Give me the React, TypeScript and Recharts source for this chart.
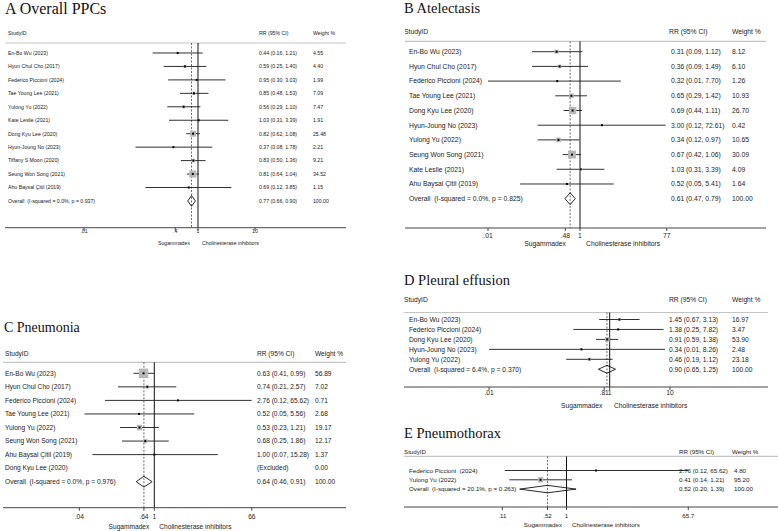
import React from 'react';
import { ScatterChart, Scatter, XAxis, YAxis, ReferenceLine } from 'recharts';

// A Overall PPCs
const aStudies = ['En-Bo Wu (2023)', 'Hyun Chul Cho (2017)', 'Federico Piccioni (2024)', 'Tae Young Lee (2021)', 'Yulong Yu (2022)', 'Kate Leslie (2021)', 'Dong Kyu Lee (2020)', 'Hyun-Joung No (2023)', 'Tiffany S Moon (2020)', 'Seung Won Song (2021)', 'Ahu Baysal Çitil (2019)'];
const aRR = [0.44, 0.59, 0.95, 0.85, 0.56, 1.03, 0.82, 0.37, 0.83, 0.81, 0.69];
const aLow = [0.16, 0.25, 0.30, 0.48, 0.29, 0.31, 0.62, 0.08, 0.50, 0.64, 0.12];
const aHigh = [1.21, 1.40, 3.03, 1.53, 1.10, 3.39, 1.08, 1.78, 1.36, 1.04, 3.85];
const aWeight = [4.55, 4.40, 1.99, 7.09, 7.47, 1.91, 25.48, 2.21, 9.21, 34.52, 1.15];
const aOverall = [0.77, 0.66, 0.90];
const aHet = 'I-squared = 0.0%, p = 0.937';
const aTicks = [0.01, 0.4, 1, 10];
const aTickLabels = ['.01', '.4', '1', '10'];

// B Atelectasis
const bStudies = ['En-Bo Wu (2023)', 'Hyun Chul Cho (2017)', 'Federico Piccioni (2024)', 'Tae Young Lee (2021)', 'Dong Kyu Lee (2020)', 'Hyun-Joung No (2023)', 'Yulong Yu (2022)', 'Seung Won Song (2021)', 'Kate Leslie (2021)', 'Ahu Baysal Çitil (2019)'];
const bRR = [0.31, 0.36, 0.32, 0.65, 0.69, 3.00, 0.34, 0.67, 1.03, 0.52];
const bLow = [0.09, 0.09, 0.01, 0.29, 0.44, 0.12, 0.12, 0.42, 0.31, 0.05];
const bHigh = [1.12, 1.49, 7.70, 1.42, 1.11, 72.61, 0.97, 1.06, 3.39, 5.41];
const bWeight = [8.12, 6.10, 1.26, 10.93, 26.70, 0.42, 10.65, 30.09, 4.09, 1.64];
const bOverall = [0.61, 0.47, 0.79];
const bHet = 'I-squared = 0.0%, p = 0.825';
const bTicks = [0.01, 0.48, 1, 77];
const bTickLabels = ['.01', '.48', '1', '77'];

// C Pneumonia
const cStudies = ['En-Bo Wu (2023)', 'Hyun Chul Cho (2017)', 'Federico Piccioni (2024)', 'Tae Young Lee (2021)', 'Yulong Yu (2022)', 'Seung Won Song (2021)', 'Ahu Baysal Çitil (2019)', 'Dong Kyu Lee (2020)'];
const cRR = [0.63, 0.74, 2.76, 0.52, 0.53, 0.68, 1.00, null];
const cLow = [0.41, 0.21, 0.12, 0.05, 0.23, 0.25, 0.07, null];
const cHigh = [0.99, 2.57, 65.62, 5.56, 1.21, 1.86, 15.28, null];
const cWeight = [56.89, 7.02, 0.71, 2.68, 19.17, 12.17, 1.37, 0.00];
const cOverall = [0.64, 0.46, 0.91];
const cHet = 'I-squared = 0.0%, p = 0.976';
const cTicks = [0.04, 0.64, 1, 66];
const cTickLabels = ['.04', '.64', '1', '66'];

// D Pleural effusion
const dStudies = ['En-Bo Wu (2023)', 'Federico Piccioni (2024)', 'Dong Kyu Lee (2020)', 'Hyun-Joung No (2023)', 'Yulong Yu (2022)'];
const dRR = [1.45, 1.38, 0.91, 0.34, 0.46];
const dLow = [0.67, 0.25, 0.59, 0.01, 0.19];
const dHigh = [3.13, 7.82, 1.38, 8.26, 1.12];
const dWeight = [16.97, 3.47, 53.90, 2.48, 23.18];
const dOverall = [0.90, 0.65, 1.25];
const dHet = 'I-squared = 6.4%, p = 0.370';
const dTicks = [0.01, 0.81, 1, 10];
const dTickLabels = ['.01', '.81', '1', '10'];

// E Pneumothorax
const eStudies = ['Federico Piccioni  (2024)', 'Yulong Yu (2022)'];
const eRR = [2.76, 0.41];
const eLow = [0.12, 0.14];
const eHigh = [65.62, 1.21];
const eWeight = [4.80, 95.20];
const eOverall = [0.52, 0.20, 1.39];
const eHet = 'I-squared = 20.1%, p = 0.263';
const eTicks = [0.11, 0.52, 1, 65.7];
const eTickLabels = ['.11', '.52', '1', '65.7'];

const SANS = '"Liberation Sans", Arial, sans-serif';
const fmt = (v: number) => v.toFixed(2);

interface Geo {
  left: number; right: number; oneX: number; perDecade: number;
  headY: number; sepY: number; row0Y: number; rowStep: number; axisY: number;
  headX: number; labelX: number; rrHeadX: number; rrX: number; wHeadX: number; wX: number;
  font: number; boxScale: number; tickOff: number;
  capY: number; capL: number; capR: number;
  titleX: number; titleY: number; titleSize: number;
}

interface PlotProps {
  title: string;
  studies: string[];
  rr: (number | null)[];
  low: (number | null)[];
  high: (number | null)[];
  weight: number[];
  overall: number[];
  het: string;
  ticks: number[];
  tickLabels: string[];
  g: Geo;
}

const ForestPlot = ({ title, studies, rr, low, high, weight, overall, het, ticks, tickLabels, g }: PlotProps) => {
  const n = studies.length;
  const top = g.headY - 8;
  const width = g.right - g.left;
  const height = g.capY + 4 - top;
  const xAxisH = height - (g.axisY - top);
  const toRow = (py: number) => (py - g.row0Y) / g.rowStep;
  const toVal = (px: number) => Math.pow(10, (px - g.oneX) / g.perDecade);
  const yDomain = [toRow(top), toRow(g.axisY)];
  const xDomain = [toVal(g.left), toVal(g.right)];
  const headRow = toRow(g.headY);
  const sepRow = toRow(g.sepY);
  const yTicks = [headRow, ...studies.map((_, i) => i), n];

  const points = studies
    .map((s, i) => ({ x: rr[i], y: i, lo: low[i], hi: high[i], w: weight[i], name: s }))
    .filter((p) => p.x != null);

  const textStyle = { fontFamily: SANS, fontSize: g.font, fill: '#1a1a1a', whiteSpace: 'pre' as const };

  // the y axis sits 1px left of the svg (margin -1), so texts are placed from the chart's left edge
  const renderRow = (p: any) => {
    const v = p.payload.value;
    const y = p.y;
    if (v < -0.5) {
      return (
        <g>
          <text x={g.headX - g.left} y={y} dy="0.35em" style={textStyle}>StudyID</text>
          <text x={g.rrHeadX - g.left} y={y} dy="0.35em" style={textStyle}>RR (95% CI)</text>
          <text x={g.wHeadX - g.left} y={y} dy="0.35em" style={textStyle}>Weight %</text>
        </g>
      );
    }
    const i = Math.round(v);
    let label: string;
    let ci: string;
    let w: string;
    if (i === n) {
      label = `Overall  (${het})`;
      ci = `${fmt(overall[0])} (${fmt(overall[1])}, ${fmt(overall[2])})`;
      w = '100.00';
    } else {
      label = studies[i];
      const e = rr[i];
      ci = e == null ? '(Excluded)' : `${fmt(e)} (${fmt(low[i] as number)}, ${fmt(high[i] as number)})`;
      w = fmt(weight[i]);
    }
    return (
      <g>
        <text x={g.labelX - g.left} y={y} dy="0.35em" style={textStyle}>{label}</text>
        <text x={g.rrX - g.left} y={y} dy="0.35em" style={textStyle}>{ci}</text>
        <text x={g.wX - g.left} y={y} dy="0.35em" style={textStyle}>{w}</text>
      </g>
    );
  };

  const renderXTick = (p: any) => {
    const idx = ticks.indexOf(p.payload.value);
    return (
      <text x={p.x} y={p.y - 3 + g.tickOff} textAnchor="middle" style={textStyle}>
        {tickLabels[idx]}
      </text>
    );
  };

  const renderCaptions = () => {
    const cx = g.oneX - g.left;
    const cy = g.capY - top;
    return (
      <g>
        <text x={cx - g.capL} y={cy} textAnchor="end" style={textStyle}>Sugammadex</text>
        <text x={cx + g.capR} y={cy} textAnchor="start" style={textStyle}>Cholinesterase inhibitors</text>
      </g>
    );
  };

  const renderBox = (p: any) => {
    const s = g.boxScale * Math.sqrt(p.payload.w);
    return (
      <g>
        <rect x={p.cx - s / 2} y={p.cy - s / 2} width={s} height={s} fill="#b8b8b8" />
        <rect x={p.cx - 1} y={p.cy - 1} width={2} height={2} fill="#000" />
      </g>
    );
  };

  const [oe, ol, oh] = overall;
  const dh = 0.4;
  const diamond = [
    [{ x: ol, y: n }, { x: oe, y: n - dh }],
    [{ x: oe, y: n - dh }, { x: oh, y: n }],
    [{ x: oh, y: n }, { x: oe, y: n + dh }],
    [{ x: oe, y: n + dh }, { x: ol, y: n }],
  ];

  return (
    <>
      <div
        style={{
          position: 'absolute', left: g.titleX, top: g.titleY - g.titleSize * 0.86,
          fontFamily: '"Liberation Serif", "Times New Roman", serif',
          fontSize: g.titleSize, lineHeight: `${g.titleSize}px`, color: '#111', whiteSpace: 'nowrap',
        }}
      >
        {title}
      </div>
      <div style={{ position: 'absolute', left: g.left, top, width, height }}>
        <ScatterChart width={width} height={height} margin={{ top: 0, right: 0, bottom: 0, left: -1 }}>
          <XAxis
            type="number"
            dataKey="x"
            scale="log"
            domain={xDomain}
            allowDataOverflow
            ticks={ticks}
            interval={0}
            height={xAxisH}
            tickSize={3}
            tickMargin={0}
            axisLine={{ stroke: '#444', strokeWidth: 1 }}
            tickLine={{ stroke: '#444' }}
            tick={renderXTick}
            label={renderCaptions}
          />
          <YAxis
            type="number"
            dataKey="y"
            domain={yDomain}
            reversed
            allowDataOverflow
            ticks={yTicks}
            interval={0}
            width={1}
            axisLine={false}
            tickLine={false}
            tickMargin={0}
            tick={renderRow}
          />
          <ReferenceLine y={sepRow} stroke="#c4c4c4" strokeWidth={1.2} ifOverflow="visible" />
          <ReferenceLine
            segment={[{ x: 1, y: sepRow }, { x: 1, y: yDomain[1] }]}
            stroke="#111"
            strokeWidth={1}
            ifOverflow="visible"
          />
          <ReferenceLine
            segment={[{ x: oe, y: sepRow }, { x: oe, y: yDomain[1] }]}
            stroke="#444"
            strokeWidth={0.8}
            strokeDasharray="2 1.5"
            ifOverflow="visible"
          />
          <Scatter data={points} shape={renderBox} isAnimationActive={false} />
          {points.map((p) => (
            <ReferenceLine
              key={p.name}
              segment={[{ x: p.lo as number, y: p.y }, { x: p.hi as number, y: p.y }]}
              stroke="#1a1a1a"
              strokeWidth={0.9}
              ifOverflow="visible"
            />
          ))}
          {diamond.map((seg, i) => (
            <ReferenceLine key={`d${i}`} segment={seg} stroke="#111" strokeWidth={0.9} ifOverflow="visible" />
          ))}
        </ScatterChart>
      </div>
    </>
  );
};

const geoA: Geo = {
  left: 5, right: 346, oneX: 198, perDecade: 57,
  headY: 33.3, sepY: 43.3, row0Y: 53.3, rowStep: 13.45, axisY: 228,
  headX: 8, labelX: 8, rrHeadX: 259, rrX: 259, wHeadX: 313, wX: 313,
  font: 5.2, boxScale: 1.2, tickOff: 5, capY: 245, capL: 8, capR: 4,
  titleX: 5, titleY: 15, titleSize: 16,
};
const geoB: Geo = {
  left: 405, right: 766, oneX: 580, perDecade: 46,
  headY: 32.3, sepY: 41.7, row0Y: 52, rowStep: 14.7, axisY: 228.3,
  headX: 404, labelX: 409, rrHeadX: 669, rrX: 671, wHeadX: 732, wX: 732,
  font: 6.8, boxScale: 1.45, tickOff: 10, capY: 246.7, capL: 14, capR: 6,
  titleX: 404, titleY: 13.5, titleSize: 14.5,
};
const geoC: Geo = {
  left: 3, right: 346, oneX: 154.3, perDecade: 53.6,
  headY: 354, sepY: 362.3, row0Y: 373.3, rowStep: 13.55, axisY: 507.7,
  headX: 5, labelX: 5, rrHeadX: 257, rrX: 257, wHeadX: 315, wX: 315,
  font: 6.6, boxScale: 1.25, tickOff: 11.5, capY: 529, capL: 5, capR: 5,
  titleX: 4, titleY: 333, titleSize: 14,
};
const geoD: Geo = {
  left: 404, right: 768, oneX: 609.7, perDecade: 60.3,
  headY: 300, sepY: 312.5, row0Y: 319.5, rowStep: 9.95, axisY: 387,
  headX: 404, labelX: 409, rrHeadX: 669, rrX: 669, wHeadX: 732, wX: 732,
  font: 6.7, boxScale: 0.65, tickOff: 8, capY: 407.5, capL: 7.4, capR: 4.3,
  titleX: 404, titleY: 285, titleSize: 14.5,
};
const geoE: Geo = {
  left: 404, right: 778, oneX: 566.5, perDecade: 67,
  headY: 452.3, sepY: 456.7, row0Y: 470.8, rowStep: 9.3, axisY: 507.3,
  headX: 404, labelX: 409, rrHeadX: 679, rrX: 679, wHeadX: 732, wX: 734,
  font: 6.2, boxScale: 0.55, tickOff: 11, capY: 527.3, capL: 4.5, capR: 5.5,
  titleX: 404, titleY: 438, titleSize: 14.5,
};

export default function App() {
  return (
    <div style={{ position: 'absolute', left: 0, top: 0, width: 778, height: 531, background: '#fff', overflow: 'hidden' }}>
      <ForestPlot title="A Overall PPCs" studies={aStudies} rr={aRR} low={aLow} high={aHigh} weight={aWeight}
        overall={aOverall} het={aHet} ticks={aTicks} tickLabels={aTickLabels} g={geoA} />
      <ForestPlot title="B Atelectasis" studies={bStudies} rr={bRR} low={bLow} high={bHigh} weight={bWeight}
        overall={bOverall} het={bHet} ticks={bTicks} tickLabels={bTickLabels} g={geoB} />
      <ForestPlot title="C Pneumonia" studies={cStudies} rr={cRR} low={cLow} high={cHigh} weight={cWeight}
        overall={cOverall} het={cHet} ticks={cTicks} tickLabels={cTickLabels} g={geoC} />
      <ForestPlot title="D Pleural effusion" studies={dStudies} rr={dRR} low={dLow} high={dHigh} weight={dWeight}
        overall={dOverall} het={dHet} ticks={dTicks} tickLabels={dTickLabels} g={geoD} />
      <ForestPlot title="E Pneumothorax" studies={eStudies} rr={eRR} low={eLow} high={eHigh} weight={eWeight}
        overall={eOverall} het={eHet} ticks={eTicks} tickLabels={eTickLabels} g={geoE} />
    </div>
  );
}
